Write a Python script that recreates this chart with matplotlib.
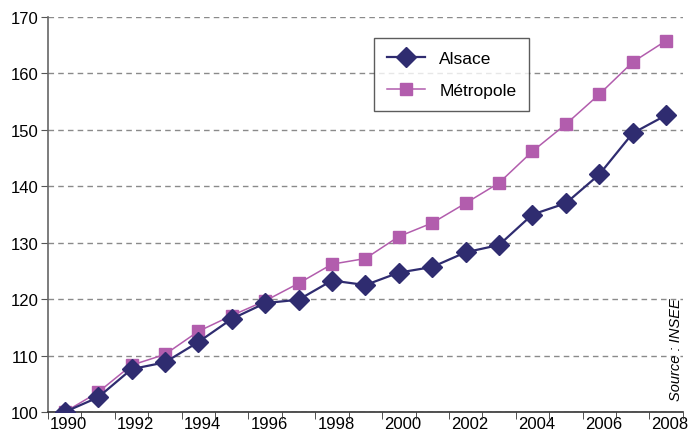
import matplotlib
matplotlib.use("Agg")
import matplotlib.pyplot as plt
import matplotlib.transforms as mtrans
import numpy as np

plt.rcParams['font.family'] = ['Liberation Sans', 'DejaVu Sans']

years = list(range(1990, 2009))
alsace = [100, 102.6, 107.6, 108.8, 112.4, 116.5, 119.3, 119.9, 123.3, 122.5,
          124.7, 125.7, 128.3, 129.6, 135.0, 137.0, 142.1, 149.4, 152.6]
metropole = [100, 103.5, 108.3, 110.2, 114.3, 117.1, 119.7, 122.8, 126.2, 127.2,
             131.1, 133.5, 137.0, 140.6, 146.2, 151.0, 156.3, 162.0, 165.8]
tick_years = years[::2]

c_als = '#2F2C70'
c_met = '#B25DAD'

fig = plt.figure(figsize=(6.89, 4.39), dpi=100)
ax = fig.add_axes([0.0697, 0.0592, 0.9213, 0.8998])

ax.plot(years, alsace, color=c_als, lw=1.6, marker='D', ms=10,
        markeredgecolor=c_als, label='Alsace', zorder=4)
ax.plot(years, metropole, color=c_met, lw=1.1, marker='s', ms=8,
        markeredgecolor=c_met, label='Métropole', zorder=3)

ax.set_xlim(1989.5, 2008.5)
ax.set_ylim(100, 170)
ax.set_yticks(np.arange(100, 171, 10))
ax.set_xticks(tick_years)
ax.set_xticks(np.arange(1989.5, 2009, 1), minor=True)
ax.tick_params(axis='x', which='major', length=0, labelsize=12, pad=3)
ax.tick_params(axis='x', which='minor', length=5, color='#333333', direction='out')
ax.tick_params(axis='y', length=5, color='#555555', labelsize=12, pad=2)

# year labels sit a little right of the points in the source chart
off = mtrans.ScaledTranslation(4 / 100, 0, fig.dpi_scale_trans)
for lab in ax.get_xticklabels():
    lab.set_transform(lab.get_transform() + off)

ax.grid(axis='y', linestyle=(0, (4, 3)), color='#8a8a8a', lw=1)
ax.set_axisbelow(True)
for s in ['top', 'right']:
    ax.spines[s].set_visible(False)
ax.spines['left'].set_color('#666666')
ax.spines['bottom'].set_color('#333333')
ax.spines['left'].set_linewidth(1.2)
ax.spines['bottom'].set_linewidth(1.2)

leg = ax.legend(loc='upper left', bbox_to_anchor=(0.5, 0.97), fontsize=12.5,
                frameon=True, fancybox=False, edgecolor='#333333',
                handlelength=2.2, borderpad=0.75, labelspacing=1.0)
leg.get_frame().set_linewidth(1)

ax.text(0.99, 0.03, 'Source : INSEE', transform=ax.transAxes, rotation=90,
        fontsize=10.5, style='italic', ha='center', va='bottom')

fig.savefig('out.png', dpi=100)
